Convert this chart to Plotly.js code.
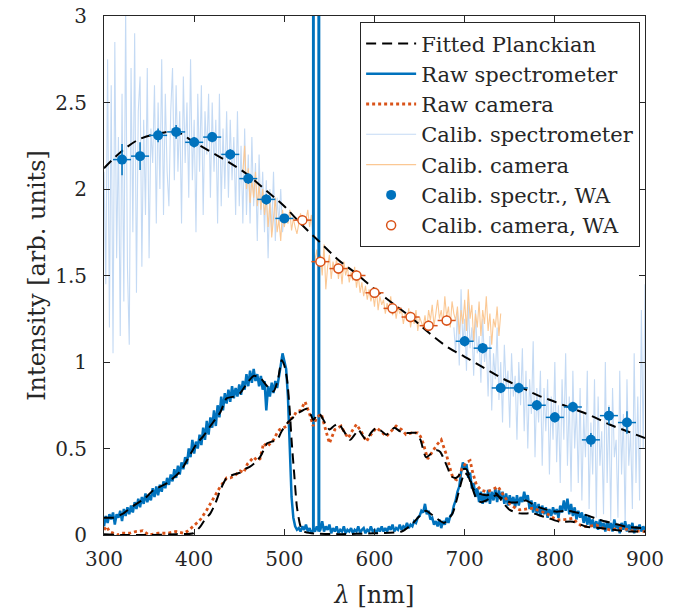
<!DOCTYPE html>
<html>
<head>
<meta charset="utf-8">
<script src="https://cdn.plot.ly/plotly-3.0.1.min.js"></script>
<style>html,body{margin:0;padding:0;background:#fff;}#chart{width:690px;height:612px;}</style>
</head>
<body>
<div id="chart"></div>
<script>
// ---------- DATA ----------
// Fitted Planckian (every 20 nm, 300..900)
const planckWl = [300,320,340,360,380,400,420,440,460,480,500,520,540,560,580,600,620,640,660,680,700,720,740,760,780,800,820,840,860,880,900];
const planckVal = [2.12,2.22,2.29,2.32,2.33,2.27,2.21,2.15,2.08,1.99,1.90,1.79,1.69,1.59,1.51,1.42,1.34,1.26,1.17,1.09,1.03,0.97,0.91,0.86,0.81,0.77,0.73,0.69,0.64,0.60,0.56];

// Raw spectrometer, 300..900 nm every 2 nm
const rawSpecStart = 300, rawSpecStep = 2;
const rawSpecVal = [
0.05,0.11,0.07,0.12,0.09,0.13,0.06,0.12,0.10,0.14,
0.08,0.15,0.11,0.16,0.12,0.17,0.13,0.19,0.15,0.21,
0.16,0.22,0.18,0.24,0.19,0.23,0.20,0.27,0.22,0.28,
0.23,0.29,0.25,0.31,0.27,0.33,0.29,0.35,0.31,0.38,
0.33,0.40,0.35,0.42,0.38,0.45,0.41,0.50,0.45,0.55,
0.47,0.54,0.50,0.58,0.52,0.62,0.55,0.66,0.58,0.68,
0.62,0.72,0.63,0.75,0.68,0.80,0.72,0.82,0.76,0.84,
0.77,0.86,0.79,0.85,0.80,0.87,0.81,0.89,0.84,0.93,
0.86,0.95,0.88,0.96,0.89,0.93,0.86,0.92,0.84,0.89,
0.72,0.86,0.80,0.88,0.82,0.89,0.85,0.93,0.98,1.05,
1.00,0.96,0.80,0.55,0.22,0.10,0.05,0.03,0.04,0.02,
0.05,0.03,0.06,0.02,0.04,0.01,0.03,0.02,0.05,0.02,
0.03,0.08,0.02,0.05,0.03,0.06,0.01,0.04,0.02,0.05,
0.01,0.03,0.02,0.05,0.01,0.03,0.02,0.04,0.01,0.03,
0.02,0.05,0.01,0.03,0.04,0.01,0.03,0.02,0.05,0.02,
0.03,0.01,0.04,0.02,0.05,0.02,0.04,0.02,0.05,0.03,
0.06,0.02,0.04,0.03,0.06,0.03,0.05,0.04,0.07,0.04,
0.06,0.05,0.08,0.07,0.10,0.11,0.14,0.13,0.18,0.12,
0.14,0.09,0.10,0.06,0.08,0.05,0.09,0.04,0.08,0.06,
0.10,0.07,0.11,0.12,0.17,0.20,0.25,0.28,0.36,0.42,
0.38,0.41,0.33,0.36,0.27,0.30,0.22,0.27,0.19,0.25,
0.18,0.24,0.19,0.26,0.18,0.25,0.20,0.27,0.19,0.26,
0.21,0.25,0.18,0.24,0.17,0.23,0.18,0.22,0.16,0.23,
0.17,0.22,0.19,0.25,0.20,0.23,0.15,0.20,0.13,0.19,
0.12,0.18,0.11,0.17,0.12,0.16,0.10,0.15,0.11,0.16,
0.12,0.15,0.10,0.17,0.13,0.20,0.14,0.21,0.12,0.18,
0.11,0.16,0.09,0.14,0.10,0.13,0.07,0.12,0.06,0.11,
0.05,0.09,0.04,0.08,0.03,0.09,0.04,0.07,0.02,0.08,
0.03,0.07,0.02,0.09,0.04,0.06,0.01,0.07,0.03,0.08,
0.02,0.06,0.03,0.07,0.01,0.05,0.03,0.06,0.02,0.05,
0.03];
// Two narrow laser lines in the raw spectrometer signal
const rawSpikeWl = [531.5,532,532.5,537.6,538.1,538.6];
const rawSpikeVal = [0.02,30,0.03,0.03,30,0.02];

// Raw camera
const rawCamWl = [300,303,306,310,315,320,328,335,343,350,360,370,380,388,392,399,403,407,414,418,422,429,436,440,444,451,455,459,466,470,473,477,481,484,488,492,495,499,503,506,510,513,518,523,528,532,536,541,544,547,550,553,556,563,567,571,575,580,585,591,596,602,607,613,618,624,630,635,641,648,651,654,659,664,669,674,677,680,684,687,691,694,697,702,706,709,713,718,724,730,737,743,750,755,761,768,776,783,791,798,805,812,820,825,831,838,846,853,861,868,875,885,894,900];
const rawCamVal = [0.03,0.05,0.02,0.01,0.00,0.01,0.01,0.02,0.025,0.00,0.01,0.01,0.02,0.01,0.02,0.05,0.07,0.09,0.145,0.18,0.22,0.28,0.33,0.33,0.34,0.37,0.36,0.41,0.45,0.43,0.44,0.53,0.51,0.53,0.55,0.59,0.61,0.62,0.63,0.67,0.68,0.71,0.72,0.77,0.70,0.63,0.68,0.70,0.64,0.59,0.53,0.57,0.61,0.63,0.59,0.56,0.60,0.64,0.60,0.54,0.58,0.62,0.60,0.57,0.60,0.63,0.61,0.58,0.59,0.59,0.57,0.53,0.44,0.48,0.52,0.55,0.51,0.46,0.38,0.33,0.32,0.34,0.385,0.42,0.43,0.36,0.29,0.26,0.25,0.26,0.28,0.23,0.18,0.16,0.145,0.15,0.155,0.14,0.125,0.10,0.087,0.09,0.096,0.07,0.048,0.05,0.058,0.04,0.03,0.035,0.04,0.025,0.02,0.02];

// Fit of raw spectrometer (dashed, no legend)
const fitSpecWl = [300,310,320,333,345,355,370,385,395,403,410,418,429,436,444,451,459,466,473,481,488,493,497,500,503,506,508,511,514,518,522,530,560,600,630,641,650,657,663,668,677,682,687,692,697,700,704,708,713,718,724,735,742,750,760,768,775,783,792,802,812,820,835,850,865,879,898,900];
const fitSpecVal = [0.10,0.10,0.12,0.17,0.21,0.26,0.30,0.37,0.46,0.53,0.57,0.63,0.71,0.79,0.80,0.82,0.88,0.92,0.91,0.86,0.83,0.90,1.01,0.98,0.90,0.72,0.55,0.35,0.16,0.05,0.02,0.01,0.005,0.01,0.02,0.06,0.11,0.14,0.12,0.10,0.07,0.09,0.13,0.22,0.32,0.36,0.34,0.28,0.21,0.19,0.20,0.23,0.21,0.19,0.19,0.20,0.18,0.16,0.145,0.135,0.14,0.135,0.115,0.087,0.067,0.048,0.04,0.04];

// Fit of raw camera (dashed, no legend)
const fitCamWl = [300,320,350,380,399,407,412,418,424,429,436,444,451,456,462,468,473,477,481,486,492,497,503,510,517,525,529,532,536,539,545,550,555,560,566,573,578,582,586,591,596,602,608,613,618,622,628,633,640,646,651,657,663,669,673,676,681,685,690,693,698,702,706,709,716,724,735,742,750,761,776,785,794,805,820,835,850,865,883,898,900];
const fitCamVal = [0.005,0.0,0.0,0.005,0.01,0.05,0.09,0.125,0.19,0.26,0.33,0.35,0.36,0.38,0.395,0.42,0.45,0.49,0.53,0.54,0.55,0.60,0.645,0.68,0.71,0.73,0.70,0.665,0.69,0.70,0.65,0.61,0.63,0.645,0.60,0.55,0.58,0.61,0.58,0.55,0.59,0.62,0.60,0.58,0.60,0.62,0.60,0.59,0.59,0.59,0.55,0.45,0.47,0.49,0.48,0.45,0.39,0.34,0.33,0.34,0.38,0.38,0.33,0.27,0.24,0.23,0.24,0.19,0.145,0.125,0.125,0.11,0.096,0.077,0.077,0.048,0.04,0.03,0.02,0.02,0.02];

// Calibrated spectrometer, every 2 nm: 300..500 and 688..900
const calSpecLeftStart = 300, calSpecRightStart = 688, calStep = 2;
const calSpecLeft = [
2.10,1.45,2.75,1.20,2.60,1.05,2.85,1.60,2.30,1.15,
2.55,1.35,3.05,1.55,1.10,2.70,1.75,2.90,1.40,2.45,
2.65,1.55,2.40,1.85,2.70,1.60,2.35,2.15,2.60,1.80,
2.50,2.00,2.75,1.85,2.55,2.10,1.90,2.45,2.70,2.05,
2.60,2.10,2.45,1.80,2.65,2.15,2.50,1.95,2.75,2.05,
2.40,1.75,2.55,2.10,2.60,1.85,2.45,2.20,2.55,1.95,
2.50,2.10,2.40,1.80,2.55,1.90,2.35,2.00,2.45,1.95,
2.40,2.05,2.30,1.85,2.45,1.90,2.25,1.80,2.35,1.85,
2.20,1.80,2.30,1.90,2.15,1.70,2.20,1.85,2.10,1.75,
2.05,1.60,2.00,1.75,2.10,1.70,1.95,1.80,2.00,1.75,
1.85];
const calSpecRight = [
1.20,1.05,1.30,0.98,1.42,1.10,1.25,0.95,1.35,1.08,
1.20,0.92,1.30,1.05,1.15,0.88,1.25,1.00,1.10,0.80,
1.15,0.72,1.05,0.90,1.20,0.78,1.00,0.65,1.10,0.85,
0.95,0.62,1.05,0.80,0.92,0.55,1.00,0.75,1.08,0.60,
0.95,0.50,0.90,0.70,1.12,0.45,0.85,0.65,0.95,0.40,
0.85,0.60,0.90,0.35,0.80,0.55,1.00,0.42,0.75,0.30,
0.90,0.55,1.05,0.40,0.80,0.25,0.95,0.50,0.75,0.30,
0.85,0.20,0.70,0.45,0.95,0.15,0.65,0.35,0.90,0.10,
0.80,0.40,0.60,0.12,1.00,0.30,0.75,0.08,0.85,0.45,
0.55,0.10,0.95,0.35,0.70,0.05,0.90,0.40,0.60,0.15,
1.05,0.30,0.80,0.20,1.30,0.50,1.45];

// Calibrated camera, every 2 nm: 454..740
const calCamStart = 454;
const calCam = [
2.10,2.25,2.00,2.12,1.92,2.05,1.95,2.10,1.90,2.02,
1.88,2.00,1.85,1.95,1.78,1.92,1.72,1.85,1.95,1.75,
1.82,1.70,1.88,1.78,1.85,1.80,1.88,1.76,1.83,1.78,
1.74,1.80,1.86,1.80,1.84,1.82,1.88,1.78,1.85,1.72,
1.58,1.65,1.55,1.62,1.50,1.68,1.42,1.55,1.62,1.48,
1.58,1.52,1.60,1.48,1.56,1.45,1.58,1.50,1.55,1.46,
1.52,1.47,1.55,1.43,1.50,1.40,1.46,1.38,1.44,1.36,
1.42,1.35,1.40,1.32,1.43,1.30,1.38,1.33,1.36,1.28,
1.34,1.30,1.38,1.27,1.33,1.25,1.32,1.28,1.30,1.22,
1.28,1.24,1.31,1.20,1.27,1.22,1.30,1.18,1.26,1.23,
1.20,1.27,1.19,1.30,1.24,1.33,1.21,1.28,1.36,1.25,
1.30,1.22,1.38,1.26,1.32,1.20,1.35,1.28,1.24,1.32,
1.16,1.30,1.22,1.36,1.18,1.42,1.25,1.33,1.12,1.28,
1.20,1.35,1.15,1.30,1.22,1.38,1.18,1.28,1.10,1.25,
1.20,1.32,1.15,1.28];

// Weighted averages
const waSpecWl = [320,340,360,380,400,420,440,460,480,500,700,720,740,760,780,800,820,840,860,880];
const waSpecVal = [2.17,2.19,2.31,2.33,2.27,2.30,2.20,2.06,1.94,1.83,1.12,1.08,0.85,0.85,0.75,0.68,0.74,0.55,0.69,0.65];
const waSpecErrY = [0.09,0.08,0.04,0.04,0.03,0.03,0.03,0.03,0.03,0.02,0.03,0.03,0.03,0.03,0.03,0.03,0.03,0.04,0.05,0.065];
const waCamWl = [520,540,560,580,600,620,640,660,680];
const waCamVal = [1.82,1.58,1.54,1.50,1.40,1.31,1.26,1.21,1.24];
const waCamErrY = [0.03,0.03,0.03,0.03,0.03,0.03,0.03,0.03,0.03];
const waErrX = 10;

const xTicks = [300,400,500,600,700,800,900];
const yTicks = [0,0.5,1,1.5,2,2.5,3];
const yTickText = ['0','0.5','1','1.5','2','2.5','3'];

// ---------- BUILD ----------
function grid(start, step, n){ const a=[]; for(let i=0;i<n;i++) a.push(start+i*step); return a; }
const BLUE = '#0072BD', ORANGE = '#D95319';
const FONT = 'DejaVu Serif';
const TXT = '#262626';

// merge the raw spectrometer grid with the narrow line samples, sorted by wavelength
const rawPairs = grid(rawSpecStart, rawSpecStep, rawSpecVal.length).map((w,i)=>[w, rawSpecVal[i]])
  .concat(rawSpikeWl.map((w,i)=>[w, rawSpikeVal[i]]))
  .sort((a,b)=>a[0]-b[0]);
const rawSpecX = rawPairs.map(p=>p[0]), rawSpecY = rawPairs.map(p=>p[1]);

const calSpecX = grid(calSpecLeftStart, calStep, calSpecLeft.length).concat([null], grid(calSpecRightStart, calStep, calSpecRight.length));
const calSpecY = calSpecLeft.concat([null], calSpecRight);

const dashStyle = '10px,6px';

const traces = [
  {x: calSpecX, y: calSpecY, mode:'lines', name:'Calib. spectrometer', line:{color:'rgb(196,218,244)', width:1.1}, connectgaps:false, legendrank:4},
  {x: grid(calCamStart, calStep, calCam.length), y: calCam, mode:'lines', name:'Calib. camera', line:{color:'rgb(251,200,148)', width:1.1}, legendrank:5},
  {x: rawSpecX, y: rawSpecY, mode:'lines', name:'Raw spectrometer', line:{color:BLUE, width:2.5}, legendrank:2},
  {x: rawCamWl, y: rawCamVal, mode:'lines', name:'Raw camera', line:{color:ORANGE, width:2.8, dash:'dot'}, legendrank:3},
  {x: fitSpecWl, y: fitSpecVal, mode:'lines', showlegend:false, line:{color:'#000', width:2, dash:dashStyle, shape:'spline', smoothing:0.6}},
  {x: fitCamWl, y: fitCamVal, mode:'lines', showlegend:false, line:{color:'#000', width:2, dash:dashStyle, shape:'spline', smoothing:0.6}},
  {x: planckWl, y: planckVal, mode:'lines', name:'Fitted Planckian', line:{color:'#000', width:2, dash:dashStyle, shape:'spline'}, legendrank:1},
  {x: waSpecWl, y: waSpecVal, mode:'markers', name:'Calib. spectr., WA', marker:{color:BLUE, size:10},
    error_x:{type:'constant', value:waErrX, color:BLUE, thickness:1.5, width:0},
    error_y:{type:'data', array:waSpecErrY, color:BLUE, thickness:1.5, width:0}, legendrank:6},
  {x: waCamWl, y: waCamVal, mode:'markers', name:'Calib. camera, WA', marker:{color:'#fff', size:9, line:{color:ORANGE, width:1.5}},
    error_x:{type:'constant', value:waErrX, color:ORANGE, thickness:1.5, width:0},
    error_y:{type:'data', array:waCamErrY, color:ORANGE, thickness:1.5, width:0}, legendrank:7}
];

const axisCommon = {
  showline:true, linecolor:TXT, linewidth:1, mirror:'ticks',
  ticks:'inside', ticklen:6, tickcolor:TXT, tickwidth:1,
  showgrid:false, zeroline:false,
  tickfont:{family:FONT, size:20, color:TXT}
};

const layout = {
  width:690, height:612,
  margin:{l:104, r:45, t:16, b:77},
  paper_bgcolor:'#fff', plot_bgcolor:'#fff',
  showlegend:true,
  font:{family:FONT, color:TXT},
  xaxis: Object.assign({}, axisCommon, {
    range:[300,900], tickvals:xTicks, ticktext:xTicks.map(String), ticklabelstandoff:6,
    title:{text:'<i>λ</i> [nm]', font:{family:FONT, size:24, color:TXT}, standoff:16}
  }),
  yaxis: Object.assign({}, axisCommon, {
    range:[0,3], tickvals:yTicks, ticktext:yTickText, ticklabelstandoff:12,
    title:{text:'Intensity [arb. units]', font:{family:FONT, size:24, color:TXT}, standoff:2}
  }),
  legend:{
    x:0.991, xanchor:'right', y:0.988, yanchor:'top',
    bgcolor:'#fff', bordercolor:TXT, borderwidth:1,
    font:{family:FONT, size:21, color:TXT},
    itemwidth:50, tracegroupgap:0
  }
};

Plotly.newPlot('chart', traces, layout, {staticPlot:true, displayModeBar:false});
</script>
</body>
</html>
